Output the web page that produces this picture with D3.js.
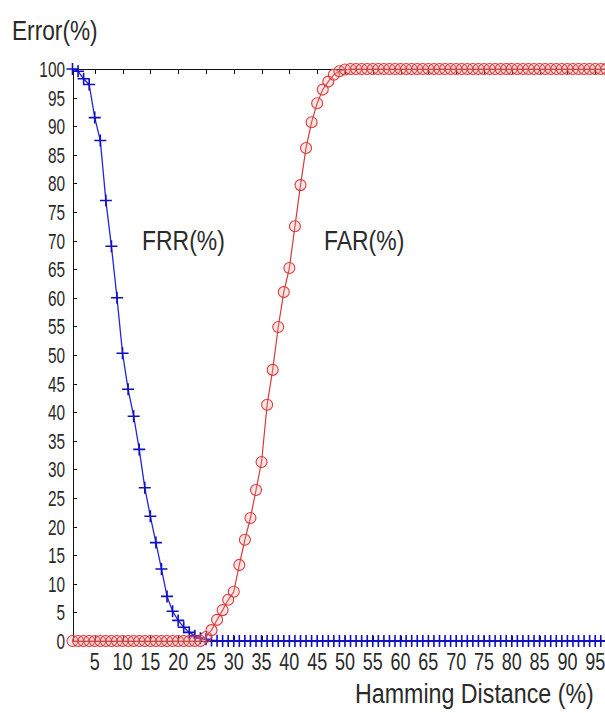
<!DOCTYPE html>
<html lang="en">
<head>
    <meta charset="UTF-8">
    <title>FRR / FAR vs Hamming Distance</title>
    <script src="https://d3js.org/d3.v7.min.js"></script>
    <style>
        body { margin: 0; background: #fff; }
        svg { display: block; }
        .lbl { font-family: "Liberation Sans", Arial, sans-serif; fill: #2a2a2a; }
        .axis path, .axis line { stroke: #111; stroke-width: 1; shape-rendering: crispEdges; }
    </style>
</head>
<body>
    <div id="chart"></div>

    <script>
        // Hamming distance (%) 1..100
        const hd = d3.range(1, 101);

        // False Reject Rate (%) at hd = 1..100
        const frr = [
            100, 99.6, 98.3, 97.3, 91.5, 87.5, 77, 69, 60, 50.3,
            44, 39.3, 33.5, 26.8, 21.8, 17.2, 12.6, 7.8, 5.2, 3.6,
            2.4, 1.5, 0.9, 0.5, 0.3, 0.1, 0.05, 0, 0, 0,
            0, 0, 0, 0, 0, 0, 0, 0, 0, 0,
            0, 0, 0, 0, 0, 0, 0, 0, 0, 0,
            0, 0, 0, 0, 0, 0, 0, 0, 0, 0,
            0, 0, 0, 0, 0, 0, 0, 0, 0, 0,
            0, 0, 0, 0, 0, 0, 0, 0, 0, 0,
            0, 0, 0, 0, 0, 0, 0, 0, 0, 0,
            0, 0, 0, 0, 0, 0, 0, 0, 0, 0
        ];

        // False Accept Rate (%) at hd = 1..100
        const far = [
            0, 0, 0, 0, 0, 0, 0, 0, 0, 0,
            0, 0, 0, 0, 0, 0, 0, 0, 0, 0,
            0, 0, 0, 0, 0.7, 1.9, 3.7, 5.4, 7.2, 8.6,
            13.3, 17.7, 21.5, 26.4, 31.3, 41.3, 47.4, 54.9, 61, 65.2,
            72.5, 79.7, 86.2, 90.7, 94, 96.4, 97.8, 99, 99.6, 99.9,
            100, 100, 100, 100, 100, 100, 100, 100, 100, 100,
            100, 100, 100, 100, 100, 100, 100, 100, 100, 100,
            100, 100, 100, 100, 100, 100, 100, 100, 100, 100,
            100, 100, 100, 100, 100, 100, 100, 100, 100, 100,
            100, 100, 100, 100, 100, 100, 100, 100, 100, 100
        ];

        const xTicks = d3.range(5, 100, 5);
        const yTicks = d3.range(0, 101, 5);

        const W = 605, H = 713;

        const svg = d3.select("#chart").append("svg")
            .attr("width", W)
            .attr("height", H);

        const x = d3.scaleLinear().domain([1, 100]).range([72.5, 623]);
        const y = d3.scaleLinear().domain([0, 100]).range([641, 69]);

        // condensed text: scale horizontally
        function addText(str, tx, ty, size, anchor, sx) {
            return svg.append("text")
                .attr("class", "lbl")
                .attr("transform", `translate(${tx},${ty}) scale(${sx},1)`)
                .attr("text-anchor", anchor)
                .style("font-size", size + "px")
                .text(str);
        }

        // axes (box, ticks pointing inside)
        svg.append("g").attr("class", "axis")
            .attr("transform", `translate(${x(1)},0)`)
            .call(d3.axisLeft(y).tickValues(yTicks).tickSize(-4).tickSizeOuter(0).tickFormat(""));

        svg.append("g").attr("class", "axis")
            .attr("transform", `translate(0,${y(100)})`)
            .call(d3.axisTop(x).tickValues(xTicks).tickSize(-5).tickSizeOuter(0).tickFormat(""));

        svg.append("g").attr("class", "axis")
            .attr("transform", `translate(0,${y(0)})`)
            .call(d3.axisBottom(x).tickValues(xTicks).tickSize(-5).tickSizeOuter(0).tickFormat(""));

        // tick labels
        yTicks.forEach(v => addText(v, 65, y(v) + 8, 22, "end", 0.7));
        xTicks.forEach(v => addText(v, x(v), 670, 24, "middle", 0.75));

        // titles
        addText("Error(%)", 12, 40, 28, "start", 0.81);
        addText("Hamming Distance (%)", 355, 703, 28, "start", 0.83);
        addText("FRR(%)", 142, 250, 27, "start", 0.85);
        addText("FAR(%)", 324, 250, 27, "start", 0.85);

        const line = d3.line().x((d, i) => x(hd[i])).y(d => y(d));

        // FRR : blue line with + markers
        svg.append("path")
            .datum(frr)
            .attr("d", line)
            .attr("fill", "none")
            .attr("stroke", "#2424d8")
            .attr("stroke-width", 1.3);

        svg.append("g").selectAll("path")
            .data(frr)
            .join("path")
            .attr("transform", (d, i) => `translate(${x(hd[i])},${y(d)})`)
            .attr("d", "M-6,0H6M0,-6V6")
            .attr("stroke", "#1010c0")
            .attr("stroke-width", 1.6)
            .attr("fill", "none");

        // FAR : red line with circle markers
        svg.append("path")
            .datum(far)
            .attr("d", line)
            .attr("fill", "none")
            .attr("stroke", "#d83a3a")
            .attr("stroke-width", 1.2);

        svg.append("g").selectAll("circle")
            .data(far)
            .join("circle")
            .attr("cx", (d, i) => x(hd[i]))
            .attr("cy", d => y(d))
            .attr("r", 5.5)
            .attr("fill", "rgba(240,150,150,0.25)")
            .attr("stroke", "#d83a3a")
            .attr("stroke-width", 1.1);
    </script>
</body>
</html>
